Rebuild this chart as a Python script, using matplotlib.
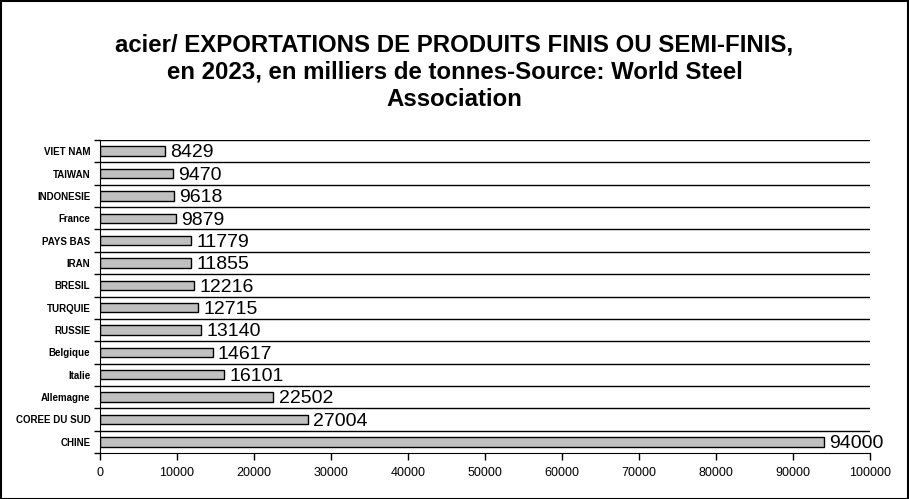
import numpy as np
import matplotlib.pyplot as plt
from matplotlib.patches import Rectangle

# data, top to bottom as in the chart
pays = ["VIET NAM", "TAIWAN", "INDONESIE", "France", "PAYS BAS", "IRAN", "BRESIL",
        "TURQUIE", "RUSSIE", "Belgique", "Italie", "Allemagne", "COREE DU SUD", "CHINE"]
exports = [8429, 9470, 9618, 9879, 11779, 11855, 12216,
           12715, 13140, 14617, 16101, 22502, 27004, 94000]
x_ticks = [0, 10000, 20000, 30000, 40000, 50000, 60000, 70000, 80000, 90000, 100000]

plt.rcParams['font.family'] = ['Liberation Sans', 'DejaVu Sans']

fig = plt.figure(figsize=(9.09, 4.99), dpi=100)
ax = fig.add_axes([100 / 909, 1 - 453 / 499, 770 / 909, 313 / 499])

n = len(pays)
y = np.arange(n)[::-1]  # CHINE at bottom
ax.barh(y, exports, height=0.42, color="#c0c0c0", edgecolor="black", linewidth=1)

for yi, v in zip(y, exports):
    ax.text(v + 700, yi - 0.08, str(v), va="center", ha="left", fontsize=14)

# horizontal gridlines at category boundaries
bounds = np.arange(n + 1) - 0.5
for b in bounds[1:]:
    ax.axhline(b, color="black", linewidth=1)

ax.set_xlim(0, 100000)
ax.set_ylim(-0.5, n - 0.5)
ax.set_xticks(x_ticks)
ax.set_xticklabels([str(t) for t in x_ticks], fontsize=9)
ax.set_yticks(y)
ax.set_yticklabels(pays, fontsize=7, fontweight="bold")
ax.tick_params(axis="y", length=0, pad=7)
ax.tick_params(axis="x", length=5, width=1, direction="out", pad=5)
# boundary ticks on y axis
ax.set_yticks(bounds, minor=True)
ax.tick_params(axis="y", which="minor", length=4, width=1, direction="out")

for s in ["top", "right"]:
    ax.spines[s].set_visible(False)

fig.text(0.5, 1 - 72 / 499, "acier/ EXPORTATIONS DE PRODUITS FINIS OU SEMI-FINIS,\n"
         "en 2023, en milliers de tonnes-Source: World Steel\nAssociation",
         ha="center", va="center", fontsize=17.3, fontweight="bold", linespacing=1.23)

fig.patches.append(Rectangle((0.5 / 909, 0.5 / 499), 1 - 1.5 / 909, 1 - 1.5 / 499,
                             transform=fig.transFigure, fill=False,
                             edgecolor="black", linewidth=1.5))

plt.savefig("out.png", dpi=100)
